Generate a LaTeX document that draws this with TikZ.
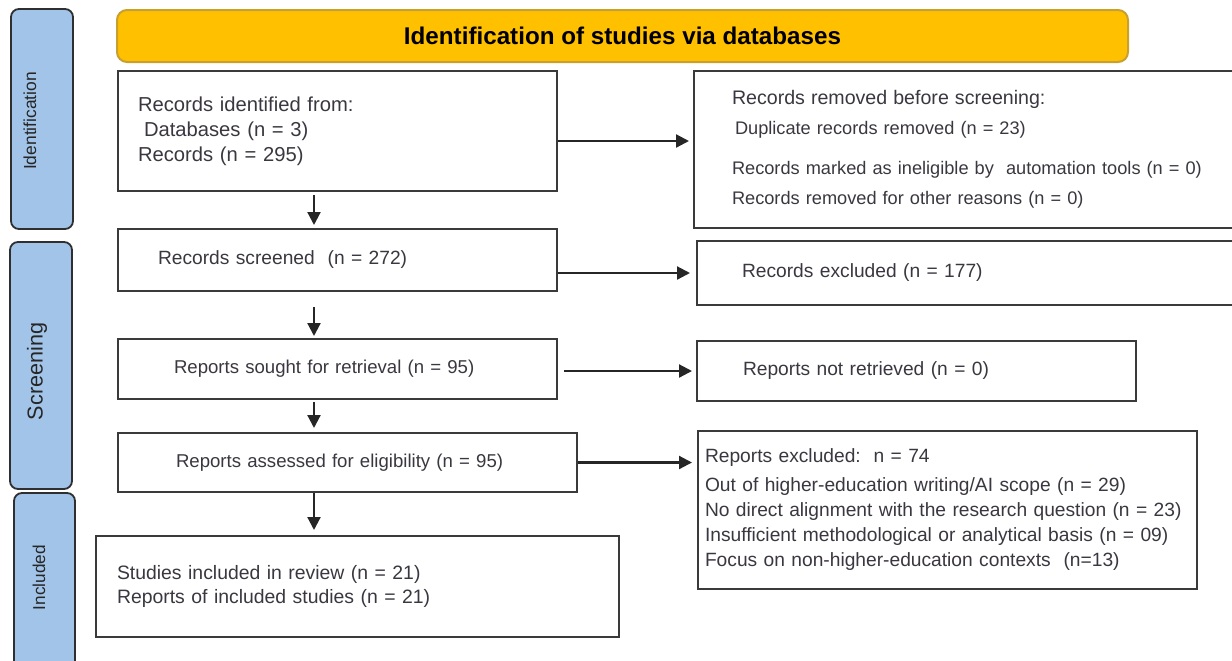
\documentclass[tikz,border=0pt]{standalone}
\usepackage{fontspec}
\setmainfont{Liberation Sans}
\usepackage{xcolor}
\usetikzlibrary{arrows.meta}

\definecolor{boxline}{HTML}{3A3A3A}
\definecolor{txtgray}{HTML}{3B3740}
\definecolor{headfill}{HTML}{FFC000}
\definecolor{headline}{HTML}{C8A030}
\definecolor{phasefill}{HTML}{A2C4E9}
\definecolor{phaseline}{HTML}{2F2F2F}

\tikzset{
    box/.style={draw=boxline, line width=1pt, fill=white, anchor=north west, align=left,
        inner ysep=0pt, text=txtgray, font=\fontsize{9.6}{12.5}\selectfont},
    phase/.style={draw=phaseline, line width=0.9pt, fill=phasefill, rounded corners=4pt, inner sep=0pt},
    phaselabel/.style={rotate=90, text=black!85, inner sep=0pt},
    arr/.style={line width=1.1pt, draw=black!85, shorten >=2pt, -{Triangle[length=6.5pt,width=6.5pt]}}
}

\begin{document}
\begin{tikzpicture}[x=0.5pt, y=-0.5pt]
        \useasboundingbox (0,0) rectangle (1232,660);
        \clip (0,0) rectangle (1232,660);

        \node[phase, minimum width=31pt, minimum height=110pt] (idphase) at (42,119) {};
        \node[phase, minimum width=31pt, minimum height=123.5pt] (scphase) at (41,365.5) {};
        \node[phase, minimum width=30.5pt, minimum height=93.5pt] (inphase) at (44.5,586.5) {};
        \node[phaselabel, font=\fontsize{8.7}{10}\selectfont] (idlabel) at ([xshift=-6pt,yshift=-1pt]idphase.center) {Identification};
        \node[phaselabel, font=\fontsize{10.8}{12}\selectfont] (sclabel) at ([xshift=-2pt,yshift=-3pt]scphase.center) {Screening};
        \node[phaselabel, font=\fontsize{8.6}{10}\selectfont] (inlabel) at ([xshift=-2.75pt,yshift=4.5pt]inphase.center) {Included};

        \node[draw=headline, line width=1pt, fill=headfill, rounded corners=5pt, minimum width=505.5pt,
            minimum height=26pt, font=\bfseries\fontsize{12.1}{14}\selectfont] (head) at (622.5,36)
            {Identification of studies via databases};

        \node[box, inner xsep=10pt, text width=199.5pt, minimum height=60pt, font=\fontsize{10.1}{12.5}\selectfont]
            (ident) at (117,70) {Records identified from:\\\hspace*{3pt}Databases (n = 3)\\Records (n = 295)};
        \node[box, inner xsep=20pt, text width=179.5pt, minimum height=31pt]
            (screen) at (117,228) {Records screened~~(n = 272)};
        \node[box, inner xsep=28pt, text width=163.5pt, minimum height=30pt, font=\fontsize{9.3}{12}\selectfont]
            (sought) at (117,338) {Reports sought for retrieval (n = 95)};
        \node[box, inner xsep=29pt, text width=171.5pt, minimum height=29.5pt, font=\fontsize{9.3}{12}\selectfont]
            (assess) at (117,432) {Reports assessed for eligibility (n = 95)};
        \node[box, inner xsep=10.5pt, text width=240.5pt, minimum height=50.5pt, font=\fontsize{9.7}{12}\selectfont]
            (incl) at (95,535) {Studies included in review (n = 21)\\Reports of included studies (n = 21)};

        \node[box, inner xsep=19pt, text width=272pt, minimum height=78.5pt, font=\fontsize{9.1}{12.5}\selectfont]
            (removed) at (693,70)
            {{\fontsize{9.8}{12.5}\selectfont Records removed before screening:}\\[2.5pt]
            \hspace*{1.5pt}Duplicate records removed (n = 23)\\[7.5pt]
            Records marked as ineligible by~~automation tools (n = 0)\\[2.5pt]
            Records removed for other reasons (n = 0)};
        \node[box, inner xsep=22.5pt, text width=235pt, minimum height=32pt]
            (excl) at (696,240) {Records excluded (n = 177)};
        \node[box, inner xsep=23pt, text width=173.5pt, minimum height=30pt]
            (notret) at (696,340) {Reports not retrieved (n = 0)};
        \node[box, inner xsep=3.5pt, text width=242.5pt, minimum height=79pt] (repexcl) at (697,430)
            {Reports excluded:~~n = 74\\[2pt]
            Out of higher-education writing/AI scope (n = 29)\\
            No direct alignment with the research question (n = 23)\\
            Insufficient methodological or analytical basis (n = 09)\\
            Focus on non-higher-education contexts~~(n=13)};

        \coordinate (spine) at (314,0);

        \draw[arr] ([yshift=-5pt]ident.east) -- ([yshift=-5pt]ident.east -| removed.west);
        \draw[arr, shorten >=3pt] (excl.west -| screen.east) -- (excl.west);
        \draw[arr, shorten <=3pt] (notret.west -| sought.east) -- (notret.west);
        \draw[arr, shorten >=2.5pt] (assess.east) -- (assess.east -| repexcl.west);

        \draw[arr, shorten <=1.5pt, shorten >=1.5pt] (ident.south -| spine) -- (screen.north -| spine);
        \draw[arr, shorten <=7.5pt, shorten >=1pt] (screen.south -| spine) -- (sought.north -| spine);
        \draw[arr, shorten <=1pt] (sought.south -| spine) -- (assess.north -| spine);
        \draw[arr, shorten >=2.5pt] (assess.south -| spine) -- (incl.north -| spine);
\end{tikzpicture}
\end{document}
